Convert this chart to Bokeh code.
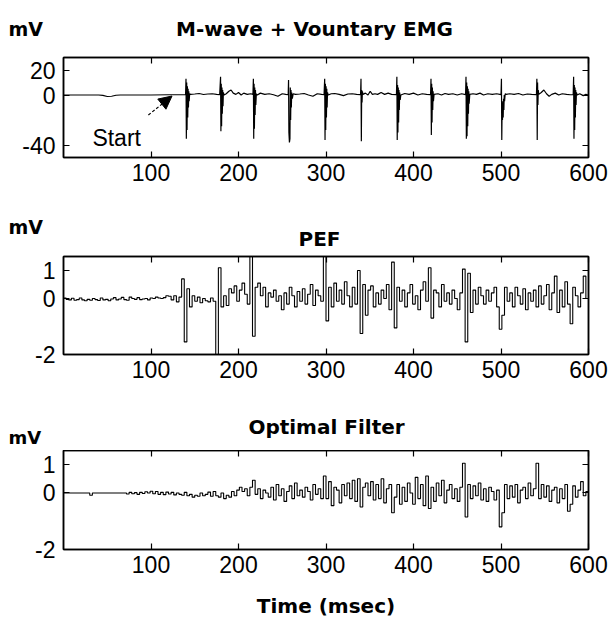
from bokeh.plotting import figure
from bokeh.layouts import column
from bokeh.models import (Label, LinearAxis, Arrow, NormalHead, FixedTicker,
                          Range1d, CustomJSTickFormatter)
from bokeh.core.properties import value
from bokeh.embed import file_html
from bokeh.resources import INLINE

# ---------------- data ----------------
time_ticks = [100, 200, 300, 400, 500, 600]
emg_ticks = [-40, 0, 20]
pef_ticks = [-2, 0, 1]
opt_ticks = [-2, 0, 1]

titles = ["M-wave + Vountary EMG", "PEF", "Optimal Filter"]
unit_label = "mV"
x_label = "Time (msec)"
start_label = "Start"

# M-wave + voluntary EMG (mV) at irregular times (ms)
emg_t = [0, 40, 45, 50, 55, 60, 65, 100, 120, 138,
         139.5, 140, 140.4, 140.8, 141.2, 141.6, 142, 142.4, 142.8, 143.2, 143.6, 144.2, 145,
         150, 155, 160, 165, 170, 175, 178.5,
         179.5, 179.9, 180.3, 180.7, 181.1, 181.5, 181.9, 182.3, 182.7, 183.5,
         186, 189, 191.5, 194, 197, 200, 203, 206, 210, 214, 216.5,
         217, 217.4, 217.8, 218.2, 218.6, 219, 219.4, 219.8, 220.4, 221.5,
         225, 230, 235, 240, 245, 250, 254, 256.8,
         257.2, 257.6, 258.2, 258.8, 259.2, 259.6, 260, 260.4, 260.8, 261.5, 262.5, 265,
         270, 275, 280, 285, 290, 295, 297.8,
         298.5, 298.9, 299.3, 299.7, 300.1, 300.5, 300.9, 301.3, 301.7, 302.5,
         306, 310, 315, 320, 325, 330, 335, 339.5,
         340, 340.4, 340.8, 341.2, 341.6, 342.2, 345, 348, 350.5, 353, 356,
         359, 363, 367, 371, 375, 380.5,
         381, 381.4, 381.8, 382.2, 382.6, 383, 383.4, 383.8, 384.2, 384.8, 385.5,
         390, 395, 400, 405, 410, 415, 419.5,
         420, 420.4, 420.8, 421.2, 421.6, 422, 422.4, 422.8, 423.5,
         428, 432, 436, 440, 445, 450, 455, 459.5,
         460, 460.4, 460.8, 461.2, 461.6, 462, 462.4, 462.8, 463.2, 463.6, 464.3,
         468, 472, 476, 480, 485, 490, 495, 500,
         500.5, 500.9, 501.3, 501.7, 502.1, 502.5, 502.9, 503.3, 503.7, 504.1, 504.8, 506,
         510, 515, 520, 525, 530, 535, 540.5,
         541, 541.4, 541.8, 542.2, 542.6, 543.2, 546, 549, 552, 555, 558, 562, 566, 570, 575, 579, 582.5,
         583, 583.4, 583.8, 584.2, 584.6, 585, 585.4, 585.8, 586.2, 587, 590, 594, 597, 600]
emg_v = [0, 0, -0.3, -1.2, -1.0, -0.2, 0, 0, 0.2, 0.2,
         0.3, 13, -35, 10, -28, 7, -18, 5, -10, 3, -5, 1, 0.5,
         0.8, 1.2, 0.4, 0.8, 1.0, 0.5, 0.3,
         14.5, -29, 9, -25, 6, -15, 4, -9, 2, 0,
         1, 3, 4, 1.5, 0.5, 2, 0, 1.5, 0.5, 1, 0.5,
         13, -35, 9, -27, 6, -16, 4, -8, 1, 0,
         1.5, 0.5, 1, 0.2, -1, 1, 0.5, 0.2,
         12, -30, -38, -35, 6, -20, 4, -10, 2, -3, 1, 0.5,
         0.8, 1.2, 0, -1, 1, 0.5, 0.3,
         13, -36, 9, -28, 7, -18, 5, -10, 2, 0,
         1, 1.2, 0.5, -0.5, 0.8, 1, 0.5, 0.3,
         13, -37, 4, -6, 3, 0.5, 1.5, 0, 3, 0.5, 1,
         0.5, 2, 0.5, 1.5, 0.5, 0.3,
         14.5, -36, 8, -30, 6, -22, 4, -12, 2, -4, 0,
         1.2, 0.5, 1.5, 0, 1, 0.5, 0.3,
         13, -32, 9, -22, 6, -12, 3, -5, 0.5,
         1, 0, 1.2, 0.5, 1, 0, 1, 0.3,
         14.5, -35, 10, -33, 7, -25, 5, -15, 3, -7, 0.5,
         1, 0.5, 1.5, 0, 1, 0.5, 1, 0.3,
         13, -36, -8, -20, -5, -18, -3, -12, 0, -5, 1, 0.5,
         1, 0.5, 1.2, 0, 0.8, 0.5, 0.3,
         13, -36, 10, -8, 4, 0.5, 2, 4, 1, -1, 0.5, 1.5, 0, 1, 0.5, 0.2, 0.3,
         14.5, -35, 8, -28, 6, -18, 4, -8, 2, 0, 1, -0.5, 0.5, 0]

# filtered outputs, one sample every 3 ms (0 ... 600 ms)
sample_t = list(range(0, 601, 3))
pef_v = [0.02, -0.03, -0.05, 0.01, -0.06, -0.04, 0.02, -0.05, -0.08, -0.03,
         -0.06, 0.0, -0.04, -0.07, 0.02, -0.05, -0.03, -0.08, -0.02, 0.03,
         -0.05, -0.02, 0.04, -0.04, -0.06, 0.05, 0.0, -0.03, 0.03, -0.04,
         -0.02, 0.0, -0.05, 0.02, 0.0, 0.05, 0.02, 0.0, 0.03, 0.1,
         0.08, -0.05, 0.1, -0.12, 0.05, 0.7, -1.55, 0.35, -0.3, 0.1,
         -0.1, 0.05, -0.15, 0.0, -0.08, -0.12, 0.02, -0.1, -2.3, 1.1,
         -0.3, 0.1, -0.25, 0.35, 0.2, 0.45, -0.1, 0.3, 0.55, 0.15,
         -0.2, 1.5, -1.35, 0.4, 0.55, 0.1, 0.4, -0.3, 0.2, 0.05,
         0.3, -0.1, 0.1, -0.4, 0.2, -0.2, 0.4, 0.1, -0.3, 0.25,
         -0.1, 0.35, -0.2, 0.15, 0.5, -0.25, 0.3, 0.1, -0.1, 1.55,
         -0.8, 0.4, -0.3, 0.55, -0.1, 0.3, -0.2, 0.6, 0.1, -0.3,
         0.4, -0.2, 1.0, -1.25, 0.5, -0.6, 0.3, 0.45, -0.3, 0.2,
         -0.2, 0.3, 0.0, 0.5, -0.4, 1.3, -1.05, 0.4, -0.1, 0.3,
         -0.3, 0.2, 0.5, -0.2, 0.1, -0.4, 0.3, 0.6, -0.1, 1.1,
         -0.7, 0.3, 0.2, -0.3, 0.5, -0.1, 0.2, -0.2, 0.3, 0.0,
         -0.4, 0.2, 1.05, -1.55, 0.9, -0.5, 0.3, -0.2, 0.4, 0.1,
         -0.2, 0.3, -0.1, 0.2, 0.4, -0.3, -1.1, -0.6, 0.4, -0.1,
         0.2, -0.3, 0.4, 0.1, -0.2, 0.35, -0.4, 0.2, -0.1, 0.3,
         -0.3, 0.45, -0.2, 0.1, 0.5, -0.4, 0.2, 0.8, -0.5, 0.3,
         -0.3, 0.6, -0.2, -0.9, 0.4, 0.1, -0.3, 0.2, 0.8, 0.0,
         0.0]
opt_v = [0, 0, 0, 0, 0, 0, 0, 0, 0, 0,
         -0.08, 0, 0, 0, 0, 0, 0, 0, 0, 0,
         0, 0, 0, 0, -0.04, 0.02, -0.03, 0.01, -0.05, 0.02,
         -0.02, 0.04, 0.0, 0.06, -0.03, 0.05, -0.05, 0.02, -0.06, 0.03,
         -0.04, 0.02, -0.07, 0.0, -0.05, -0.08, 0.02, -0.1, -0.05, -0.15,
         -0.08, -0.12, 0.0, -0.1, -0.05, 0.03, -0.12, 0.05, -0.1, -0.15,
         0.0, -0.2, -0.08, -0.15, 0.05, -0.1, 0.1, 0.2, 0.05, 0.15,
         -0.1, 0.2, 0.45, -0.05, 0.15, -0.2, 0.1, 0.0, -0.15, 0.2,
         -0.25, 0.3, -0.1, 0.15, -0.3, 0.05, 0.25, -0.2, 0.35, -0.1,
         0.1, -0.15, 0.2, 0.05, -0.25, 0.3, -0.05, 0.15, -0.2, 0.6,
         -0.2, 0.4, -0.45, 0.2, 0.1, -0.35, 0.3, -0.1, 0.35, -0.2,
         0.45, -0.3, 0.5, -0.5, 0.2, 0.35, -0.1, 0.4, -0.25, 0.3,
         -0.2, 0.5, -0.35, 0.15, 0.3, -0.7, -0.15, 0.3, -0.4, 0.2,
         -0.3, 0.35, 0.0, -0.4, 0.55, -0.2, 0.3, -0.45, 0.6, -0.55,
         0.2, -0.3, 0.35, -0.1, 0.45, -0.35, 0.1, 0.3, -0.2, 0.15,
         -0.3, 0.2, 1.05, -0.85, 0.3, -0.2, 0.25, -0.1, 0.35, -0.25,
         0.15, -0.3, 0.2, 0.05, -0.25, 0.1, -1.2, -0.7, 0.3, -0.2,
         0.25, -0.15, 0.3, -0.35, 0.1, 0.2, -0.2, 0.35, -0.1, 0.15,
         1.05, -0.2, 0.3, -0.15, 0.25, -0.3, 0.1, 0.2, -0.35, 0.15,
         -0.2, 0.3, -0.65, -0.4, 0.25, -0.15, 0.1, 0.4, -0.1, 0.05,
         0.05]

assert len(emg_t) == len(emg_v)
assert len(sample_t) == len(pef_v) == len(opt_v)

# ---------------- styling helpers ----------------
FONT = "Liberation Sans"
HEAD_FONT = "DejaVu Sans"
TICK_SIZE = "23px"
W = 608


def style_axis(ax, ticks, labels=True):
    ax.ticker = FixedTicker(ticks=ticks)
    ax.major_tick_in = 6
    ax.major_tick_out = 0
    ax.minor_tick_line_color = None
    ax.axis_line_color = "black"
    ax.axis_line_width = 1.5
    ax.major_tick_line_color = "black"
    ax.major_tick_line_width = 1.2
    ax.major_label_text_font = FONT
    ax.major_label_text_font_size = TICK_SIZE
    ax.major_label_text_color = "black"
    ax.major_label_overrides = {t: str(t) for t in ticks}
    if not labels:
        ax.formatter = CustomJSTickFormatter(code="return ''")
        ax.major_label_overrides = {}
        ax.major_label_standoff = 0
        ax.major_label_text_font_size = "0px"


def panel(height, top, bottom, y_range, yticks):
    p = figure(width=W, height=height, output_backend="svg", toolbar_location=None,
               x_range=Range1d(0, 600), y_range=Range1d(*y_range), title=None,
               x_axis_location=None, y_axis_location=None,
               min_border_left=63, min_border_right=20,
               min_border_top=top, min_border_bottom=bottom)
    p.grid.visible = False
    p.outline_line_color = "black"
    p.outline_line_width = 1.5
    p.outline_line_alpha = 1.0
    p.background_fill_color = "white"
    p.border_fill_color = "white"
    bx = LinearAxis()
    style_axis(bx, time_ticks)
    bx.major_label_standoff = 6
    p.add_layout(bx, "below")
    ly = LinearAxis()
    style_axis(ly, yticks)
    ly.major_label_standoff = 8
    p.add_layout(ly, "left")
    tx = LinearAxis()
    style_axis(tx, time_ticks, labels=False)
    p.add_layout(tx, "above")
    ry = LinearAxis()
    style_axis(ry, yticks, labels=False)
    p.add_layout(ry, "right")
    return p, bx


def header(height):
    h = figure(width=W, height=height, output_backend="svg", toolbar_location=None,
               x_range=Range1d(0, W), y_range=Range1d(height, 0), title=None,
               x_axis_location=None, y_axis_location=None, min_border=0,
               min_border_left=0, min_border_right=0, min_border_top=0, min_border_bottom=0)
    if "frame_align" in h.properties():
        h.frame_align = False
    h.grid.visible = False
    h.outline_line_color = None
    h.background_fill_color = "white"
    h.border_fill_color = "white"
    return h


def head_text(h, x, y, s, size, align):
    h.text(x=[x], y=[y], text=[s], text_font=value(HEAD_FONT), text_font_size=value(size),
           text_font_style="bold", text_align=align, text_baseline="middle",
           text_color="black")


# ---------------- header 1 + panel 1 ----------------
h1 = header(50)
head_text(h1, 8, 28, unit_label, "19px", "left")
head_text(h1, 314, 28, titles[0], "20px", "center")

p1, _ = panel(150, 7, 43, (-50, 30), emg_ticks)
p1.line(emg_t, emg_v, line_color="black", line_width=1.2)
p1.add_layout(Label(x=33, y=-34, text=start_label, text_font=FONT, text_font_size="23px",
                    text_baseline="alphabetic", text_color="black"))
p1.add_layout(Arrow(end=NormalHead(size=13, fill_color="black", line_color="black"),
                    x_start=97, y_start=-16, x_end=124, y_end=-0.8,
                    line_color="black", line_width=1.2, line_dash="3 2"))

# ---------------- header 2 + panel 2 ----------------
h2 = header(52)
head_text(h2, 8, 26, unit_label, "19px", "left")
head_text(h2, 319, 38, titles[1], "20px", "center")

p2, _ = panel(148, 4, 46, (-2, 1.5), pef_ticks)
p2.step(sample_t, pef_v, mode="after", line_color="black", line_width=1.1)

# ---------------- header 3 + panel 3 ----------------
h3 = header(50)
head_text(h3, 326, 26, titles[2], "20px", "center")
head_text(h3, 8, 37, unit_label, "18px", "left")

p3, bx3 = panel(175, 0, 76, (-2, 1.5), opt_ticks)
p3.step(sample_t, opt_v, mode="after", line_color="black", line_width=1.1)
bx3.axis_label = x_label
bx3.axis_label_text_font = HEAD_FONT
bx3.axis_label_text_font_size = "20px"
bx3.axis_label_text_font_style = "bold"
bx3.axis_label_text_color = "black"
bx3.axis_label_standoff = 18

layout = column(h1, p1, h2, p2, h3, p3, spacing=0)
open("out.html", "w").write(file_html(layout, INLINE))
